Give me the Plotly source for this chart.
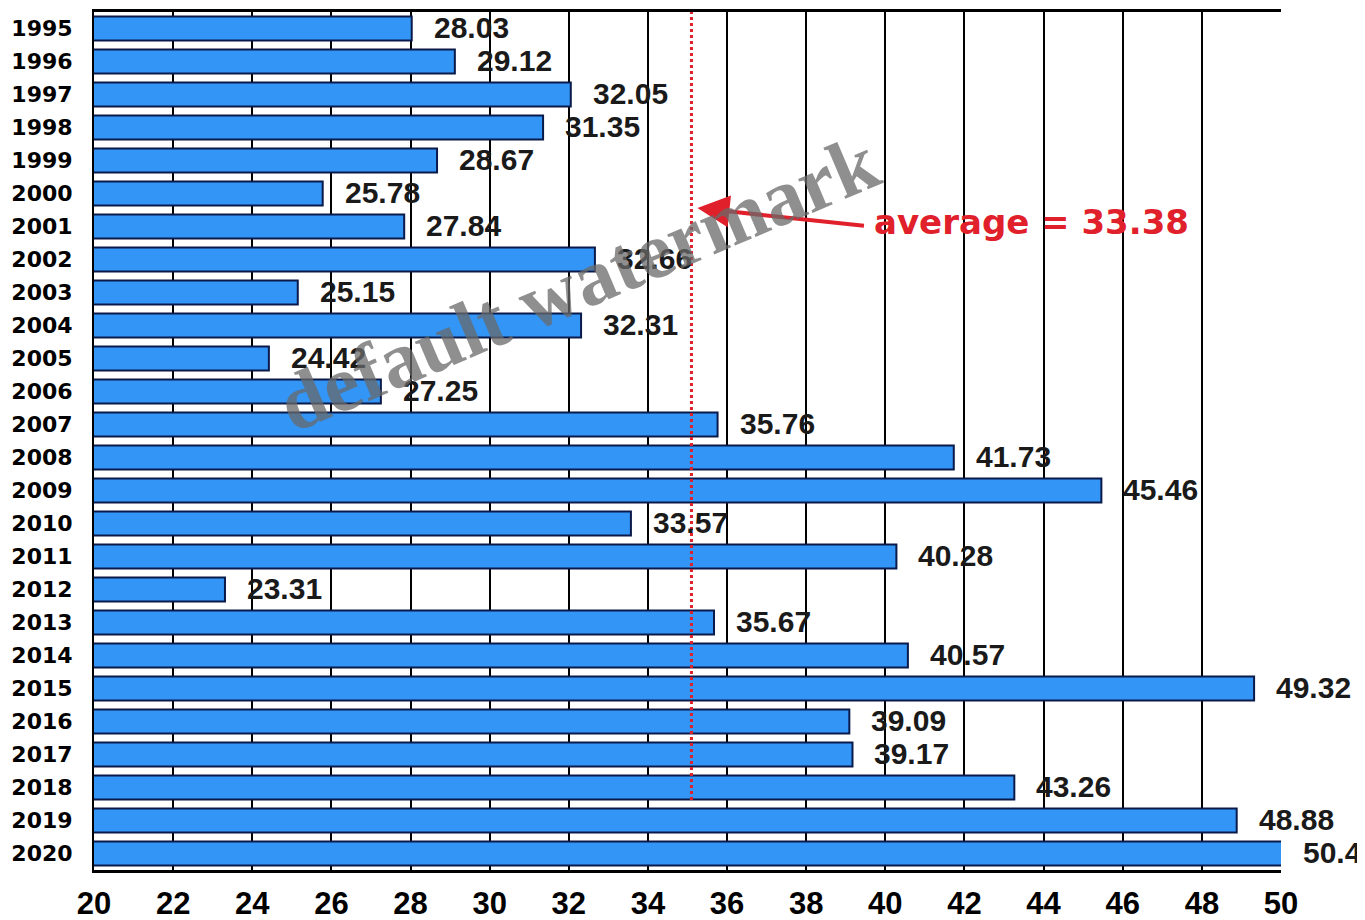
import plotly.graph_objects as go

years = [str(y) for y in range(1995, 2021)]
values = [28.03, 29.12, 32.05, 31.35, 28.67, 25.78, 27.84, 32.66, 25.15, 32.31,
          24.42, 27.25, 35.76, 41.73, 45.46, 33.57, 40.28, 23.31, 35.67, 40.57,
          49.32, 39.09, 39.17, 43.26, 48.88, 50.4]
x_ticks = list(range(20, 51, 2))
avg_label = "average = 33.38"
avg_line_x = 35.1

# target plot area in screen pixels: left 94, right 1281, top 12, bottom 870
def px(xp):
    return (xp - 94) / 1187

def py(yp):
    return (870 - yp) / 858

fig = go.Figure()
fig.add_trace(go.Bar(
    x=values, y=years, orientation="h",
    marker=dict(color="#3395f5", line=dict(color="#0a1a4a", width=2)),
    hoverinfo="x+y",
))

for i, v in enumerate(values):
    txt = f"<b>{v:g}</b>" if v == 50.4 else f"<b>{v:.2f}</b>"
    fig.add_annotation(x=min(v, 50), y=i, text=txt,
                       xanchor="left", yanchor="middle", xshift=20, yshift=1, showarrow=False,
                       font=dict(family="Liberation Sans", size=30, color="#1a1a1a"))

fig.add_shape(type="line", xref="x", yref="paper", x0=avg_line_x, x1=avg_line_x,
              y0=py(800), y1=1, line=dict(color="#e0202a", width=3, dash="dot"))

fig.add_annotation(x=avg_line_x, y=py(208), xref="x", yref="paper",
                   ax=168, ay=18, axref="pixel", ayref="pixel",
                   xshift=6,
                   text="", showarrow=True, arrowhead=2, arrowsize=1.6, arrowwidth=4,
                   arrowcolor="#e0202a")
fig.add_annotation(x=px(1031), y=py(222), xref="paper", yref="paper", text="<b>" + avg_label + "</b>",
                   xanchor="center", yanchor="middle",
                   showarrow=False, font=dict(family="DejaVu Sans", size=34, color="#e0202a"))

fig.update_layout(
    width=1357, height=912,
    margin=dict(l=86, r=84, t=4, b=50, autoexpand=False),
    paper_bgcolor="white", plot_bgcolor="white",
    bargap=0.27, showlegend=False,
    xaxis=dict(range=[20, 50], tickvals=x_ticks, showgrid=True, gridcolor="black", gridwidth=1.5,
               showline=True, linecolor="black", linewidth=3, mirror=True, zeroline=False,
               ticks="", ticklen=0, ticklabelstandoff=4, automargin=False,
               tickfont=dict(family="Liberation Sans", size=31, color="black", weight="bold")),
    yaxis=dict(type="category", categoryorder="array", categoryarray=years,
               range=[len(years) - 0.5, -0.5], automargin=False,
               showline=True, linecolor="black", linewidth=2, showgrid=False,
               ticks="", ticklabelstandoff=15,
               tickfont=dict(family="DejaVu Sans", size=22, color="black", weight="bold")),
)

fig.add_annotation(x=px(578), y=py(283), xref="paper", yref="paper", text="<b>default watermark</b>",
                   xanchor="center", yanchor="middle",
                   textangle=-23, showarrow=False,
                   font=dict(family="Liberation Serif", size=80, color="rgba(105,105,105,0.75)"))

fig.write_html("out.html")
